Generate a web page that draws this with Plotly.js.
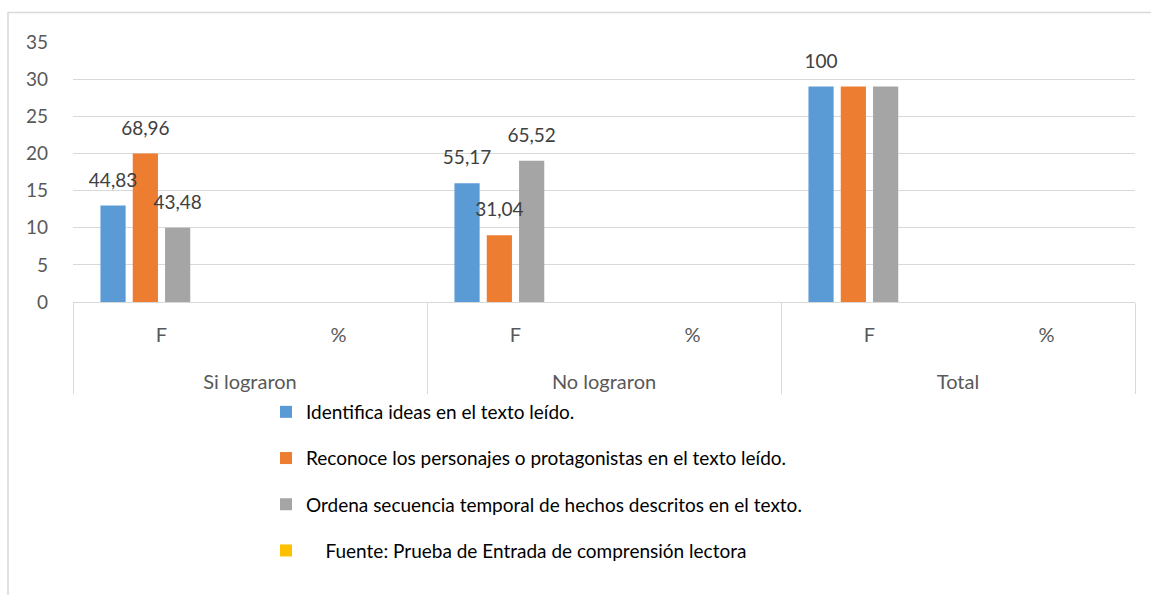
<!DOCTYPE html>
<html>
<head>
<meta charset="utf-8">
<script src="https://cdn.plot.ly/plotly-3.0.1.min.js"></script>
<style>
  html, body { margin: 0; padding: 0; background: #ffffff; }
  #chart { width: 1151px; height: 595px; }
</style>
</head>
<body>
<div id="chart"></div>
<script>
// ---- Data ----
const outerCategories = ["Si lograron", "Si lograron", "No lograron", "No lograron", "Total", "Total"];
const innerCategories = ["F", "%", "F", "%", "F", "%"];

const seriesNames = [
  "Identifica ideas en el texto leído.",
  "Reconoce los personajes o protagonistas en el texto leído.",
  "Ordena secuencia temporal de hechos descritos en el texto.",
  "    Fuente: Prueba de Entrada de comprensión lectora"
];

const identificaValues = [13, null, 16, null, 29, null];
const reconoceValues   = [20, null, 9,  null, 29, null];
const ordenaValues     = [10, null, 19, null, 29, null];
const fuenteValues     = [null, null, null, null, null, null];

const identificaLabels = ["44,83", "", "55,17", "", "100", ""];
const reconoceLabels   = ["68,96", "", "31,04", "", "", ""];
const ordenaLabels     = ["43,48", "", "65,52", "", "", ""];

// ---- Styling ----
const FONT = "Lato, 'Open Sans', sans-serif";
const seriesColors = ["#5B9BD5", "#ED7D31", "#A5A5A5", "#FFC000"];
// visible tick text is 20px; the outer level is pushed one (24px-font) line lower
const tickSpan = c => '<span style="font-size:20px">' + c + '</span>';
const xCats = [
  outerCategories.map(c => "<br>" + tickSpan(c)),
  innerCategories.map(c => tickSpan(c))
];

function barTrace(name, values, color, group) {
  return {
    type: "bar",
    name: name,
    x: xCats,
    y: values,
    marker: { color: color, line: { width: 0 } },
    offsetgroup: group,
    legendgroup: group,
    hoverinfo: "skip"
  };
}

function labelTrace(values, labels, group) {
  return {
    type: "bar",
    x: xCats,
    y: values,
    text: labels,
    texttemplate: '<span style="font-size:19px">%{text}</span><br><span style="color:rgba(0,0,0,0)">.</span>',
    textposition: "outside",
    textfont: { family: FONT, size: 10.5, color: "#404040" },
    constraintext: "none",
    cliponaxis: false,
    marker: { color: "rgba(0,0,0,0)", line: { width: 0 } },
    offsetgroup: group,
    legendgroup: group,
    showlegend: false,
    hoverinfo: "skip"
  };
}

const data = [
  barTrace(seriesNames[0], identificaValues, seriesColors[0], "g1"),
  barTrace(seriesNames[1], reconoceValues, seriesColors[1], "g2"),
  barTrace(seriesNames[2], ordenaValues, seriesColors[2], "g3"),
  barTrace(seriesNames[3], fuenteValues, seriesColors[3], "g4"),
  labelTrace(identificaValues, identificaLabels, "g1"),
  labelTrace(reconoceValues, reconoceLabels, "g2"),
  labelTrace(ordenaValues, ordenaLabels, "g3")
];

// plot area in pixels: x 73..1135, y 42..302
const PL = 73, PR = 1135, PT = 42, PB = 302;
const px2paperX = p => (p - PL) / (PR - PL);
const px2paperY = p => (PB - p) / (PB - PT);

const layout = {
  width: 1151,
  height: 595,
  margin: { l: PL, r: 1151 - PR, t: PT, b: 595 - PB, pad: 0, autoexpand: false },
  paper_bgcolor: "#ffffff",
  plot_bgcolor: "#ffffff",
  font: { family: FONT, size: 19, color: "#595959" },
  barmode: "group",
  bargap: 0.27,
  bargroupgap: 0.22,
  showlegend: true,
  xaxis: {
    type: "multicategory",
    automargin: false,
    showdividers: true,
    dividercolor: "#d9d9d9",
    dividerwidth: 1,
    showline: true,
    linecolor: "#d9d9d9",
    linewidth: 1,
    showgrid: false,
    zeroline: false,
    ticks: "",
    ticklabelstandoff: 10,
    tickfont: { family: FONT, size: 24, color: "#595959" },
    fixedrange: true
  },
  yaxis: {
    automargin: false,
    range: [0, 35],
    tick0: 0,
    dtick: 5,
    showgrid: true,
    gridcolor: "#d9d9d9",
    gridwidth: 1,
    zeroline: false,
    showline: false,
    ticks: "",
    ticklabelstandoff: 24,
    tickfont: { family: FONT, size: 19, color: "#595959" },
    fixedrange: true
  },
  legend: {
    orientation: "v",
    xref: "container",
    yref: "container",
    x: 266 / 1151,
    xanchor: "left",
    y: 1 - 393 / 595,
    yanchor: "top",
    traceorder: "grouped",
    tracegroupgap: 18.5,
    bgcolor: "rgba(0,0,0,0)",
    borderwidth: 0,
    font: { family: FONT, size: 19, color: "#000000" }
  },
  shapes: [
    {
      type: "rect",
      xref: "paper", yref: "paper",
      x0: px2paperX(8), x1: px2paperX(1170),
      y0: px2paperY(620), y1: px2paperY(12.5),
      line: { color: "#d9d9d9", width: 1.5 },
      fillcolor: "rgba(0,0,0,0)",
      layer: "below"
    }
  ]
};

Plotly.newPlot("chart", data, layout, { displayModeBar: false, staticPlot: true });
</script>
</body>
</html>
